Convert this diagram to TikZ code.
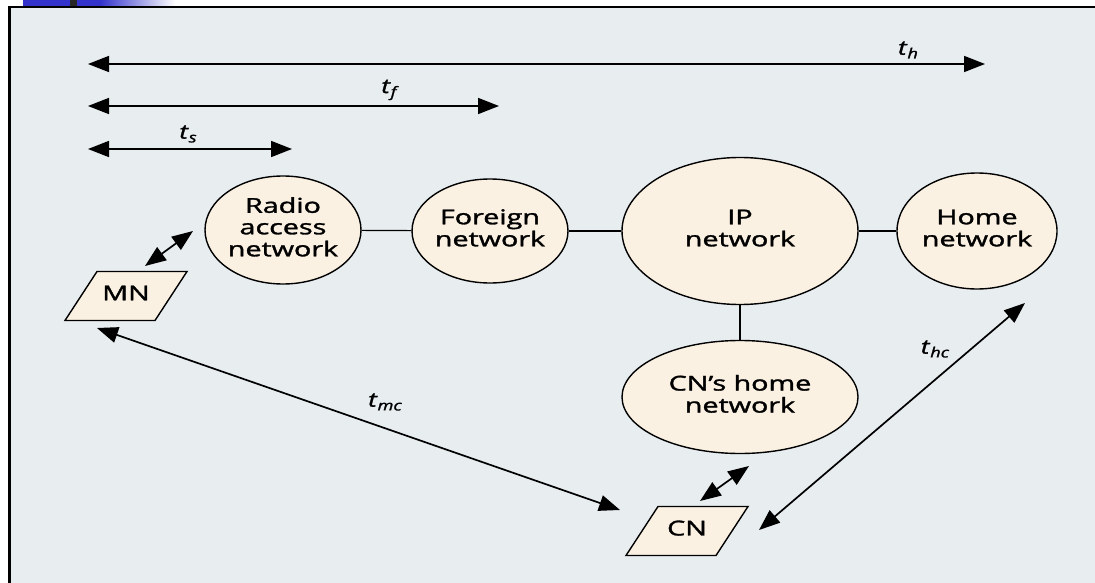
\documentclass[tikz,border=0pt]{standalone}
\usepackage{graphicx}
\usepackage{fontspec}
\setmainfont{Open Sans}[FakeBold=1.4]
\usetikzlibrary{shapes.geometric,arrows.meta}

\definecolor{fond}{RGB}{232,237,240}
\definecolor{creme}{RGB}{250,241,226}
\definecolor{bleu}{RGB}{51,51,204}

%texte élargi comme sur la figure
\newcommand{\etire}[1]{\scalebox{1.4}[1]{\begin{tabular}{@{}c@{}}#1\end{tabular}}}
\newcommand{\tlab}[1]{\scalebox{1.3}[1]{\textit{t}\raisebox{-0.35ex}{\fontsize{14}{14}\selectfont\textit{#1}}}}

\begin{document}
\begin{tikzpicture}[x=1pt,y=-1pt,
    reseau/.style={ellipse,draw,line width=1.4pt,fill=creme,inner sep=0pt,
        font=\fontsize{20.5}{21.5}\selectfont},
    terminal/.style={draw,line width=1.4pt,fill=creme,line join=miter},
    fleche/.style={line width=1.7pt,{Triangle[length=21pt,width=16pt]}-{Triangle[length=21pt,width=16pt]}},
    lien/.style={line width=1.2pt},
    delai/.style={font=\fontsize{20}{20}\selectfont}]

\useasboundingbox (0,0) rectangle (1095,583);

%cadre de la diapositive
    \fill[bleu] (23,0) rectangle (100,6);
    \shade[left color=bleu,right color=white] (100,0) rectangle (175,6);
    \fill[black!85] (70,0) rectangle (77,6);
    \fill[black] (8,6) rectangle (1095,583);
    \fill[fond] (11,8) rectangle (1095,583); %fond du schéma

%les réseaux
\node[reseau,minimum width=156,minimum height=108] (radio) at (283,230) {\etire{Radio\\access\\network}};
\node[reseau,minimum width=136,minimum height=104] (foreign) at (490,231) {\etire{Foreign\\network}};
\node[reseau,minimum width=236,minimum height=147] (ip) at (740,231) {\etire{IP\\network}};
\node[reseau,minimum width=160,minimum height=116] (home) at (977,231) {\etire{Home\\network}};
\node[reseau,minimum width=236,minimum height=113] (cnhome) at (740,397) {\etire{CN's home\\network}};

%les terminaux (parallélogrammes)
\coordinate (mnc) at (126,296);
\coordinate (cnc) at (687,531);
\foreach \c in {mnc,cnc}{
    \draw[terminal] (\c) ++(-29,-24.5) -- ++(90,0) -- ++(-32,49) -- ++(-90,0) -- cycle;
}
\node[font=\fontsize{20.5}{20}\selectfont] (mn) at (mnc) {\etire{MN}};
\node[font=\fontsize{20.5}{20}\selectfont] (cn) at (cnc) {\etire{CN}};

%liaisons entre réseaux
\draw[lien] (radio) -- (foreign);
\draw[lien] (foreign) -- (ip);
\draw[lien] (ip) -- (home);
\draw[lien] (ip) -- (cnhome);

%extrémités des flèches
\coordinate (mnA) at (145,266);
\coordinate (mnB) at (193,231);
\coordinate (cnA) at (700,501);
\coordinate (cnB) at (749,466);
\coordinate (mcA) at (97,328);
\coordinate (mcB) at (620,510);
\coordinate (hcA) at (1025,303);
\coordinate (hcB) at (759,530);

\draw[fleche] (mnA) -- (mnB);
\draw[fleche] (cnA) -- (cnB);
\draw[fleche] (mcA) -- (mcB);
\draw[fleche] (hcA) -- (hcB);

%délais en haut
\foreach \nom/\y/\xfin in {h/64/985,f/106/499,s/149/292}{
    \coordinate (d\nom A) at (88,\y);
    \coordinate (d\nom B) at (\xfin,\y);
    \draw[fleche] (d\nom A) -- (d\nom B);
}

\node[delai] (th) at (908,50) {\tlab{h}};
\node[delai] (tf) at (390,90) {\tlab{f}};
\node[delai] (ts) at (188,134) {\tlab{s}};
\node[delai] (tmc) at (385,402) {\tlab{mc}};
\node[delai] (thc) at (935,349) {\tlab{hc}};

\end{tikzpicture}
\end{document}
